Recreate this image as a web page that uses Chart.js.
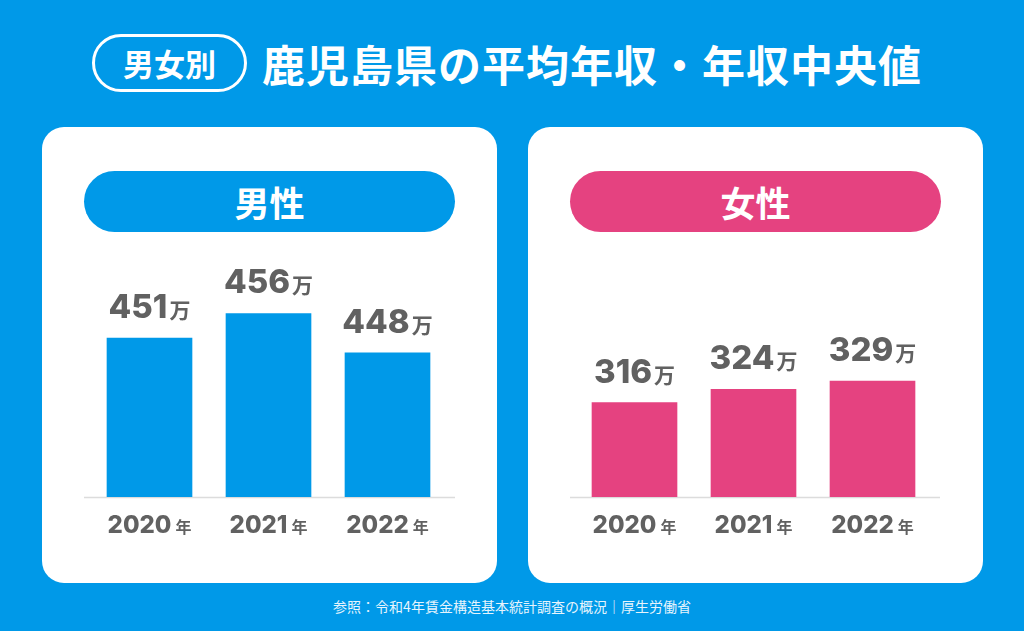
<!DOCTYPE html>
<html lang="ja">
<head>
<meta charset="utf-8">
<script src="https://cdn.jsdelivr.net/npm/chart.js@4/dist/chart.umd.min.js"></script>
<style>
  body { margin: 0; width: 1024px; height: 631px; background: #0099e8; position: relative; overflow: hidden;
         font-family: 'Noto Sans CJK JP', sans-serif; }
  .tag { position: absolute; left: 92px; top: 34px; width: 149px; height: 52px; border: 3px solid #fff; border-radius: 30px;
         color: #fff; font-weight: 700; font-size: 31px; line-height: 52px; text-align: center; }
  .title { position: absolute; left: 262px; top: 33px; height: 60px; line-height: 60px; color: #fff;
           font-weight: 700; font-size: 43px; letter-spacing: 1px; white-space: nowrap; }
  .card { position: absolute; top: 127px; width: 455px; height: 456px; background: #fff; border-radius: 22px; }
  .pill { position: absolute; left: 42px; top: 44px; width: 371px; height: 61px; border-radius: 31px;
          color: #fff; font-weight: 700; font-size: 35px; line-height: 61px; text-align: center; }
  .card canvas { position: absolute; left: 0; top: 0; }
  .foot { position: absolute; left: 0; width: 1024px; top: 596px; text-align: center; color: #e6f4fd; font-size: 14px; }
</style>
</head>
<body>
<div class="tag">男女別</div>
<div class="title">鹿児島県の平均年収・年収中央値</div>

<div class="card" style="left:42px">
  <div class="pill" style="background:#0099e8">男性</div>
  <canvas id="maleChart" width="455" height="456"></canvas>
</div>
<div class="card" style="left:528px">
  <div class="pill" style="background:#e54280">女性</div>
  <canvas id="femaleChart" width="454" height="456"></canvas>
</div>

<div class="foot">参照：令和4年賃金構造基本統計調査の概況｜厚生労働省</div>

<script>
// data
const years = ['2020', '2021', '2022'];
const yearUnit = '年';
const valueUnit = '万';
const maleIncome = [451, 456, 448];
const femaleIncome = [316, 324, 329];

const labelColor = '#616161';

// baseline + value labels + year labels
const labelPlugin = {
    id: 'labels',
    beforeDatasetsDraw(chart) {
        const { ctx, chartArea } = chart;
        ctx.save();
        ctx.strokeStyle = '#dcdcdc';
        ctx.lineWidth = 1.5;
        ctx.beginPath();
        ctx.moveTo(42, chartArea.bottom + 0.5);
        ctx.lineTo(chart.width - 42, chartArea.bottom + 0.5);
        ctx.stroke();
        ctx.restore();
    },
    afterDatasetsDraw(chart) {
        const { ctx, chartArea } = chart;
        const meta = chart.getDatasetMeta(0);
        const values = chart.data.datasets[0].data;
        ctx.save();
        ctx.fillStyle = labelColor;
        ctx.textBaseline = 'alphabetic';
        ctx.textAlign = 'left';
        meta.data.forEach((bar, i) => {
            // value label
            drawPair(ctx, String(values[i]), valueUnit, bar.x, bar.y - 20, '800 33px Inter', '700 21px "Noto Sans CJK JP"', 2);
            // year label
            drawPair(ctx, chart.data.labels[i], yearUnit, bar.x, chartArea.bottom + 36, '800 24px Inter', '700 16px "Noto Sans CJK JP"', 4);
        });
        ctx.restore();
    }
};

function drawPair(ctx, main, unit, cx, y, mainFont, unitFont, gap) {
    ctx.font = mainFont;
    const w1 = ctx.measureText(main).width;
    ctx.font = unitFont;
    const w2 = ctx.measureText(unit).width;
    const x0 = cx - (w1 + gap + w2) / 2;
    ctx.font = mainFont;
    ctx.fillText(main, x0, y);
    ctx.font = unitFont;
    ctx.fillText(unit, x0 + w1 + gap, y);
}

function makeChart(id, values, color, min, max, padLeft, padRight) {
    return new Chart(document.getElementById(id), {
        type: 'bar',
        data: {
            labels: years,
            datasets: [{ data: values, backgroundColor: color, barThickness: 85, borderWidth: 0 }]
        },
        options: {
            responsive: false,
            animation: false,
            layout: { padding: { left: padLeft, right: padRight, top: 133, bottom: 86 } },
            plugins: { legend: { display: false }, tooltip: { enabled: false } },
            scales: {
                x: { display: false },
                y: { display: false, min: min, max: max }
            }
        },
        plugins: [labelPlugin]
    });
}

makeChart('maleChart', maleIncome, '#0099e8', 418.6, 466.9, 48, 50);
makeChart('femaleChart', femaleIncome, '#e54280', 259.3, 401.8, 47, 50);
</script>
</body>
</html>
